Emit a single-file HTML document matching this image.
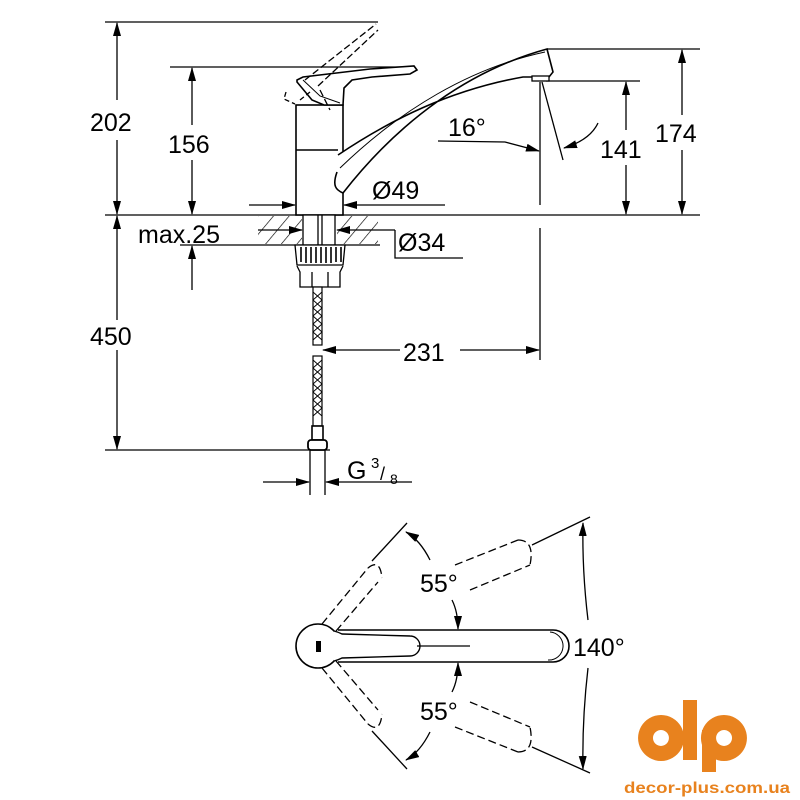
<!DOCTYPE html>
<html><head><meta charset="utf-8"><style>html,body{margin:0;padding:0;background:#fff}svg{display:block}</style></head>
<body>
<svg width="800" height="800" viewBox="0 0 800 800" xmlns="http://www.w3.org/2000/svg" font-family="Liberation Sans, sans-serif">
<defs>
<marker id="a" markerWidth="14" markerHeight="8" refX="13" refY="4" orient="auto" markerUnits="userSpaceOnUse"><path d="M0,0 L14,4 L0,8 Z" fill="#000"/></marker>
<pattern id="h" width="12" height="12" patternUnits="userSpaceOnUse" patternTransform="rotate(40)"><line x1="0" y1="0" x2="0" y2="12" stroke="#000" stroke-width="1.3"/></pattern>
</defs>
<g stroke="#000" stroke-width="1.3" fill="none">
<line x1="105" y1="22" x2="378" y2="22"/>
<line x1="170" y1="67" x2="414" y2="67"/>
<line x1="105" y1="215" x2="700" y2="215"/>
<line x1="547" y1="49" x2="700" y2="49"/>
<line x1="546" y1="81" x2="640" y2="81"/>
<line x1="180" y1="245" x2="380" y2="245"/>
<line x1="105" y1="450" x2="330" y2="450"/>
<line x1="117" y1="100" x2="117" y2="23" marker-end="url(#a)"/>
<line x1="117" y1="140" x2="117" y2="214" marker-end="url(#a)"/>
<line x1="192" y1="125" x2="192" y2="68" marker-end="url(#a)"/>
<line x1="192" y1="160" x2="192" y2="214" marker-end="url(#a)"/>
<line x1="682" y1="115" x2="682" y2="50" marker-end="url(#a)"/>
<line x1="682" y1="150" x2="682" y2="214" marker-end="url(#a)"/>
<line x1="626" y1="130" x2="626" y2="82" marker-end="url(#a)"/>
<line x1="626" y1="165" x2="626" y2="214" marker-end="url(#a)"/>
<line x1="117" y1="320" x2="117" y2="216" marker-end="url(#a)"/>
<line x1="117" y1="350" x2="117" y2="449" marker-end="url(#a)"/>
<line x1="192" y1="290" x2="192" y2="246" marker-end="url(#a)"/>
<line x1="540" y1="82" x2="540" y2="205"/>
<line x1="540" y1="228" x2="540" y2="360"/>
<line x1="542" y1="82" x2="563" y2="160"/>
<polyline points="438,141 505,142 539,151" marker-end="url(#a)"/>
<path d="M598,123 Q590,140 564,148" marker-end="url(#a)"/>
<line x1="249" y1="205" x2="295" y2="205" marker-end="url(#a)"/>
<line x1="445" y1="205" x2="344" y2="205" marker-end="url(#a)"/>
<rect x="258" y="216" width="44" height="28" fill="url(#h)" stroke="none"/>
<rect x="337" y="216" width="41" height="28" fill="url(#h)" stroke="none"/>
<line x1="258" y1="230" x2="302" y2="230" marker-end="url(#a)"/>
<line x1="395" y1="230" x2="337" y2="230" marker-end="url(#a)"/>
<polyline points="395,230 395,258 463,258"/>
<line x1="400" y1="350" x2="323" y2="350" marker-end="url(#a)"/>
<line x1="460" y1="350" x2="539" y2="350" marker-end="url(#a)"/>
<line x1="310" y1="450" x2="310" y2="495"/>
<line x1="325" y1="450" x2="325" y2="495"/>
<line x1="263" y1="482" x2="309" y2="482" marker-end="url(#a)"/>
<line x1="412" y1="482" x2="326" y2="482" marker-end="url(#a)"/>
<rect x="296" y="105" width="47" height="110" fill="#fff" stroke-width="1.6"/>
<line x1="296" y1="150" x2="338" y2="150" stroke-width="1.6"/>
<path d="M337,172 C332,186 336,190 343,193 C400,120 470,70 547,49 L553,72 L549,77 L532,77 L523,77 C450,90 390,120 338,155" fill="#fff" stroke-width="1.6"/>
<path d="M340,168 C400,110 470,68 545,52" stroke-width="1"/>
<rect x="532" y="76" width="17" height="5" fill="#fff"/>
<path d="M297,80 L303,77 L370,69 L414,66 L417,70 L410,74 L372,77 L352,80 L344,88 L343,105 L324,105 L312,100 L297,82 Z" fill="#fff" stroke-width="1.6"/>
<path d="M303,80 L320,96 L340,103" stroke-width="1"/>
<path d="M300,100 L310,92 M286,92 L284,99 L295,104" stroke-dasharray="5,3"/>
<path d="M305,80 L376,24 M318,86 L378,30 M320,90 L330,110" stroke-dasharray="7,3"/>
<rect x="303" y="215" width="32" height="30" fill="#fff"/>
<line x1="318" y1="215" x2="318" y2="245"/><line x1="322" y1="215" x2="322" y2="245"/>
<path d="M295,245 L345,245 L343,265 L297,265 Z" fill="#fff"/>
<path d="M301,247 V262 M306,247 V263 M311,247 V263 M316,247 V263 M321,247 V263 M326,247 V263 M331,247 V263 M336,247 V262 M341,247 V262" stroke-width="1.6"/>
<path d="M297,266 L300,272 L300,287 L340,287 L340,272 L343,266" fill="#fff"/>
<line x1="312" y1="272" x2="312" y2="287"/><line x1="328" y1="272" x2="328" y2="287"/>
<rect x="313" y="287" width="9" height="58" fill="#fff" stroke-width="1.2"/>
<path d="M313,292 L322,300 M313,300 L322,308 M313,308 L322,316 M313,316 L322,324 M313,324 L322,332 M313,332 L322,340 M322,292 L313,300 M322,300 L313,308 M322,308 L313,316 M322,316 L313,324 M322,324 L313,332 M322,332 L313,340" stroke-width="0.9"/>
<rect x="313" y="356" width="9" height="70" fill="#fff" stroke-width="1.2"/>
<path d="M313,360 L322,368 M313,368 L322,376 M313,376 L322,384 M313,384 L322,392 M313,392 L322,400 M313,400 L322,408 M313,408 L322,416 M322,360 L313,368 M322,368 L313,376 M322,376 L313,384 M322,384 L313,392 M322,392 L313,400 M322,400 L313,408 M322,408 L313,416" stroke-width="0.9"/>
<rect x="312" y="426" width="11" height="14" fill="#fff" stroke-width="1.6"/>
<rect x="308" y="440" width="19" height="10" rx="3" fill="#fff" stroke-width="1.8"/>
<path d="M338,630 L553,630 A16,16 0 0 1 553,662 L338,662" fill="#fff" stroke-width="1.6"/>
<path d="M550,632 A14,14 0 0 1 548,660" stroke-width="1"/>
<circle cx="318" cy="646" r="22" fill="#fff" stroke-width="1.6"/>
<path d="M334,631 Q338,632 342,634 L410,636 A10,10 0 0 1 410,656 L342,658 Q338,660 334,661" fill="#fff" stroke-width="1.4"/>
<rect x="316" y="641" width="5" height="11" fill="#000" stroke="none"/>
<line x1="417" y1="646" x2="470" y2="646"/>
<g stroke-dasharray="8,4">
<path d="M322,624 L368,568 M336,631 L378,582"/>
<path d="M368,568 Q380,558 382,578"/>
<path d="M455,565 L518,540 M470,590 L530,565"/>
<path d="M518,540 Q535,540 530,565"/>
<path d="M322,668 L368,724 M336,661 L378,710"/>
<path d="M368,724 Q380,734 382,714"/>
<path d="M455,727 L518,752 M470,702 L530,727"/>
<path d="M518,752 Q535,752 530,727"/>
</g>
<line x1="372" y1="561" x2="407" y2="523"/>
<line x1="372" y1="731" x2="407" y2="769"/>
<line x1="532" y1="545" x2="590" y2="517"/>
<line x1="532" y1="747" x2="590" y2="773"/>
<path d="M430,560 Q420,540 406,532" marker-end="url(#a)"/>
<path d="M452,600 Q458,612 458,629" marker-end="url(#a)"/>
<path d="M430,732 Q420,752 406,760" marker-end="url(#a)"/>
<path d="M452,692 Q458,680 458,663" marker-end="url(#a)"/>
<path d="M588,620 Q582,570 583,523" marker-end="url(#a)"/>
<path d="M588,668 Q582,720 583,769" marker-end="url(#a)"/>
</g>
<g font-size="25" fill="#000">
<text x="90" y="131">202</text>
<text x="168" y="153">156</text>
<text x="448" y="136">16°</text>
<text x="600" y="158">141</text>
<text x="655" y="142">174</text>
<text x="372" y="199">Ø49</text>
<text x="138" y="243">max.25</text>
<text x="398" y="251">Ø34</text>
<text x="90" y="345">450</text>
<text x="403" y="361">231</text>
<text x="347" y="479">G</text>
<text x="420" y="592">55°</text>
<text x="420" y="720">55°</text>
<text x="573" y="656">140°</text>
</g>
<text x="371" y="468" font-size="15">3</text>
<text x="380" y="480" font-size="18">/</text>
<text x="390" y="484" font-size="14">8</text>
<g fill="#E8821E">
<path d="M661,715 a23,23 0 1 0 0.1,0 z M661,730 a8,8 0 1 1 -0.1,0 z" fill-rule="evenodd"/>
<rect x="683" y="700" width="14" height="60"/>
<path d="M724,715 a23,23 0 1 1 -0.1,0 z M724,730 a8,8 0 1 0 0.1,0 z" fill-rule="evenodd"/>
<rect x="702" y="730" width="14" height="42"/>
<text x="624" y="793" font-size="16" font-weight="bold" textLength="166" lengthAdjust="spacingAndGlyphs">decor-plus.com.ua</text>
</g>
</svg>
</body></html>
